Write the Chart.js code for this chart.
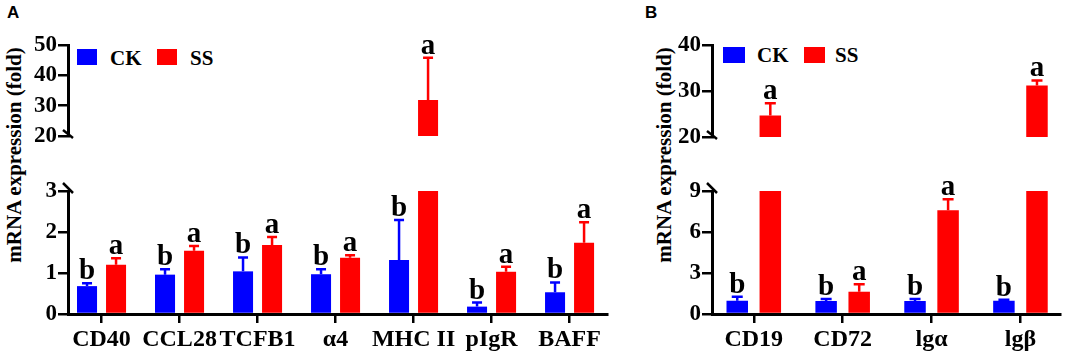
<!DOCTYPE html>
<html>
<head>
<meta charset="utf-8">
<script src="https://cdn.jsdelivr.net/npm/chart.js@4.4.1/dist/chart.umd.min.js"></script>
<style>
  html,body{margin:0;padding:0;background:#fff;}
  body{width:1065px;height:354px;position:relative;overflow:hidden;
       font-family:'Liberation Serif','Times New Roman',serif;font-weight:bold;color:#000;}
  canvas{position:absolute;}
  .ytitle{position:absolute;white-space:nowrap;font-size:21px;line-height:21px;
          transform:translate(-50%,-50%) rotate(-90deg);}
  .swatch{position:absolute;}
  .ltxt{position:absolute;font-size:21px;line-height:20px;white-space:nowrap;}
  .panel{position:absolute;font-family:'Liberation Sans',Arial,sans-serif;font-size:17px;line-height:17px;}
</style>
</head>
<body>
<div class="panel" style="left:7px;top:4px">A</div>
<div class="panel" style="left:645px;top:4px">B</div>
<div class="ytitle" style="left:14px;top:155px">mRNA expression (fold)</div>
<div class="ytitle" style="left:664px;top:155px">mRNA expression (fold)</div>

<div class="swatch" style="left:77px;top:49px;width:20px;height:16px;background:#0000ff"></div>
<div class="ltxt" style="left:110px;top:48px">CK</div>
<div class="swatch" style="left:157px;top:49px;width:20px;height:16px;background:#ff0000"></div>
<div class="ltxt" style="left:190px;top:48px">SS</div>

<div class="swatch" style="left:723px;top:47px;width:22px;height:16px;background:#0000ff"></div>
<div class="ltxt" style="left:757px;top:45px">CK</div>
<div class="swatch" style="left:804px;top:47px;width:21px;height:16px;background:#ff0000"></div>
<div class="ltxt" style="left:835px;top:45px">SS</div>

<canvas id="aTop" width="620" height="190" style="left:0;top:0"></canvas>
<canvas id="aBot" width="620" height="178" style="left:0;top:176px"></canvas>
<canvas id="bTop" width="425" height="191" style="left:640px;top:0"></canvas>
<canvas id="bBot" width="425" height="178" style="left:640px;top:176px"></canvas>

<script>
// panel A
const labelsA = ['CD40', 'CCL28', 'TCFB1', 'α4', 'MHC II', 'pIgR', 'BAFF'];
const ckA    = [0.68, 0.96, 1.04, 0.97, 1.32, 0.18, 0.53];
const ckErrA = [0.07, 0.13, 0.34, 0.12, 0.97, 0.10, 0.24];
const ssA    = [1.20, 1.54, 1.68, 1.37, 31.9, 1.03, 1.74];
const ssErrA = [0.16, 0.12, 0.20, 0.06, 13.9, 0.12, 0.50];
const ckSigA = ['b', 'b', 'b', 'b', 'b', 'b', 'b'];
const ssSigA = ['a', 'a', 'a', 'a', 'a', 'a', 'a'];

// panel B
const labelsB = ['CD19', 'CD72', 'lgα', 'lgβ'];
const ckB    = [0.97, 0.95, 0.95, 0.97];
const ckErrB = [0.29, 0.14, 0.14, 0.08];
const ssB    = [24.7, 1.63, 7.60, 31.2];
const ssErrB = [2.65, 0.54, 0.80, 1.10];
const ckSigB = ['b', 'b', 'b', 'b'];
const ssSigB = ['a', 'a', 'a', 'a'];

// broken y axes: [min, max, step]
const yTopA = [20, 50, 10], yBotA = [0, 3, 1];
const yTopB = [20, 40, 10], yBotB = [0, 9, 3];

const BLUE = '#0000ff', RED = '#ff0000';

Chart.defaults.font.family = "'Liberation Serif', 'Times New Roman', serif";
Chart.defaults.font.weight = 'bold';
Chart.defaults.color = '#000';

// error bars (upper half only) + significance letters
const errBars = {
  id: 'errBars',
  afterDatasetsDraw(chart, args, opts) {
    const {ctx, chartArea: a} = chart;
    const y = chart.scales.y;
    ctx.save();
    ctx.beginPath();
    ctx.rect(a.left, a.top - 2, a.right - a.left, a.bottom - a.top + 2);
    ctx.clip();
    chart.data.datasets.forEach((ds, d) => {
      chart.getDatasetMeta(d).data.forEach((bar, i) => {
        const yt = y.getPixelForValue(ds.data[i].y + ds.err[i]);
        ctx.strokeStyle = ds.backgroundColor;
        ctx.lineWidth = 2.5;
        ctx.beginPath();
        ctx.moveTo(bar.x, bar.y);
        ctx.lineTo(bar.x, yt);
        ctx.moveTo(bar.x - opts.cap, yt);
        ctx.lineTo(bar.x + opts.cap, yt);
        ctx.stroke();
      });
    });
    ctx.restore();

    ctx.save();
    ctx.font = "bold 29px 'Liberation Serif', serif";
    ctx.fillStyle = '#000';
    ctx.textAlign = 'center';
    ctx.textBaseline = 'alphabetic';
    chart.data.datasets.forEach((ds, d) => {
      chart.getDatasetMeta(d).data.forEach((bar, i) => {
        const top = ds.data[i].y + ds.err[i];
        if (top < y.min || top > y.max) return;
        ctx.fillText(ds.sig[i], bar.x, y.getPixelForValue(top) - 4);
      });
    });
    ctx.restore();
  }
};

// the two slashes of the axis break
const axisBreak = {
  id: 'axisBreak',
  afterDraw(chart, args, opts) {
    const {ctx, chartArea: a} = chart;
    ctx.save();
    ctx.strokeStyle = '#000';
    ctx.lineWidth = 2.5;
    ctx.beginPath();
    if (opts.at === 'bottom') {
      ctx.moveTo(a.left - 5, a.bottom - 6);
      ctx.lineTo(a.left + 5, a.bottom + 2);
    } else {
      ctx.moveTo(a.left - 5, a.top - 8);
      ctx.lineTo(a.left + 5, a.top + 2);
    }
    ctx.stroke();
    ctx.restore();
  }
};

function makeData(ck, ckErr, ckSig, ss, ssErr, ssSig, bar) {
  return {
    datasets: [
      {label: 'CK', data: ck.map((v, i) => ({x: i, y: v})), backgroundColor: BLUE,
       err: ckErr, sig: ckSig, categoryPercentage: bar[0], barPercentage: bar[1]},
      {label: 'SS', data: ss.map((v, i) => ({x: i, y: v})), backgroundColor: RED,
       err: ssErr, sig: ssSig, categoryPercentage: bar[0], barPercentage: bar[1]}
    ]
  };
}

function makeOptions(part, labels, xr, yr, yWidth, pad, cap) {
  const axisLine = {display: true, width: 3, color: '#000'};
  return {
    responsive: false,
    animation: false,
    layout: {padding: pad},
    plugins: {
      legend: {display: false},
      tooltip: {enabled: false},
      errBars: {cap: cap},
      axisBreak: {at: part === 'top' ? 'bottom' : 'top'}
    },
    scales: {
      x: {
        type: 'linear', display: part === 'bottom', min: xr[0], max: xr[1],
        bounds: 'data', offset: false,
        afterBuildTicks: s => { s.ticks = labels.map((_, i) => ({value: i})); s.min = xr[0]; s.max = xr[1]; },
        afterFit: s => { s.height = 40; },
        grid: {drawOnChartArea: false, offset: false, tickLength: 9, lineWidth: 2.5, color: '#000'},
        border: axisLine,
        ticks: {autoSkip: false, maxRotation: 0, minRotation: 0, padding: 2, color: '#000',
                font: {size: 24, weight: 'bold'}, callback: v => labels[v]}
      },
      y: {
        min: yr[0], max: yr[1],
        afterFit: s => { s.width = yWidth; },
        grid: {drawOnChartArea: false, tickLength: 10, lineWidth: 2.5, color: '#000'},
        border: axisLine,
        ticks: {stepSize: yr[2], autoSkip: false, padding: 1, color: '#000', font: {size: 23, weight: 'bold'}}
      }
    }
  };
}

const barA = [0.744, 0.69], barB = [0.744, 0.65];
const xrA = [-0.43, 6.48], xrB = [-0.47, 3.445];

new Chart(document.getElementById('aTop'), {
  type: 'bar', plugins: [errBars, axisBreak],
  data: makeData(ckA, ckErrA, ckSigA, ssA, ssErrA, ssSigA, barA),
  options: makeOptions('top', labelsA, xrA, yTopA, 68, {top: 45, bottom: 14, left: 0, right: 13}, 5)
});
new Chart(document.getElementById('aBot'), {
  type: 'bar', plugins: [errBars, axisBreak],
  data: makeData(ckA, ckErrA, ckSigA, ssA, ssErrA, ssSigA, barA),
  options: makeOptions('bottom', labelsA, xrA, yBotA, 68, {top: 15, bottom: 0, left: 0, right: 13}, 5)
});
new Chart(document.getElementById('bTop'), {
  type: 'bar', plugins: [errBars, axisBreak],
  data: makeData(ckB, ckErrB, ckSigB, ssB, ssErrB, ssSigB, barB),
  options: makeOptions('top', labelsB, xrB, yTopB, 72, {top: 45, bottom: 14, left: 0, right: 5}, 5.5)
});
new Chart(document.getElementById('bBot'), {
  type: 'bar', plugins: [errBars, axisBreak],
  data: makeData(ckB, ckErrB, ckSigB, ssB, ssErrB, ssSigB, barB),
  options: makeOptions('bottom', labelsB, xrB, yBotB, 72, {top: 15, bottom: 0, left: 0, right: 5}, 5.5)
});
</script>
</body>
</html>
